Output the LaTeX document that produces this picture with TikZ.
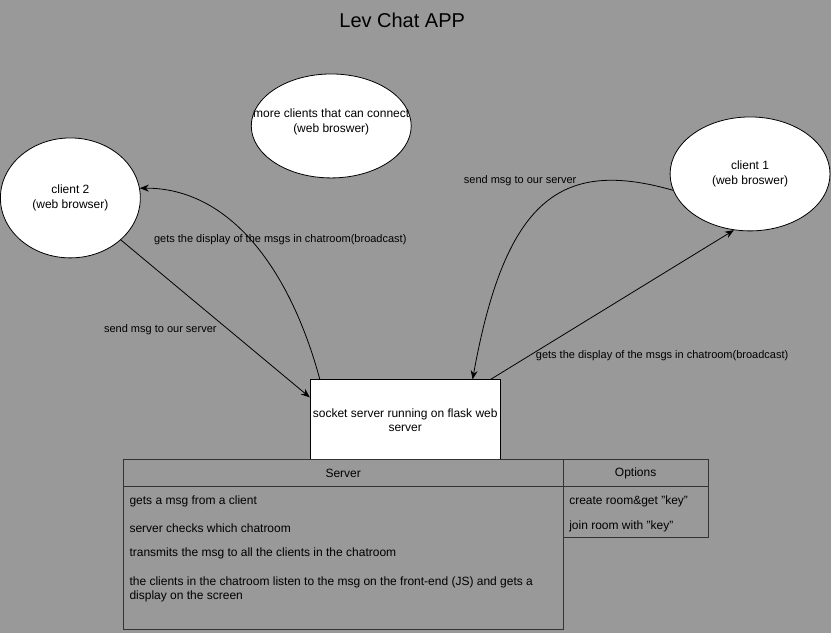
\documentclass[tikz,border=0pt]{standalone}
\usepackage{fontspec}
\setmainfont{Liberation Sans}
\usetikzlibrary{shapes.geometric, arrows.meta, positioning}
\definecolor{canvasgray}{RGB}{153,153,153}
\definecolor{tableline}{RGB}{51,51,51}
\tikzset{
    client_ellipse/.style={
        ellipse, draw=black, line width=0.8pt, fill=white,
        inner sep=0pt, align=center, font=\fontsize{12}{15}\selectfont
    },
    socket_box/.style={
        rectangle, draw=black, line width=0.8pt, fill=white,
        minimum width=190pt, minimum height=80pt, inner sep=0pt,
        align=center, font=\fontsize{12}{14}\selectfont
    },
    table_cell/.style={
        rectangle, draw=tableline, line width=1pt, inner sep=0pt,
        align=center, font=\fontsize{12}{14}\selectfont
    },
    row_text/.style={
        anchor=west, inner sep=0pt, align=left, font=\fontsize{12}{14}\selectfont
    },
    pipe_arrow/.style={
        -{Stealth[length=9pt, width=7pt]}, line width=0.8pt, draw=black
    },
    lbl/.style={
        font=\fontsize{11}{13}\selectfont, inner sep=0pt
    }
}

\begin{document}
\begin{tikzpicture}[x=1pt, y=-1pt]
    \fill[canvasgray] (0,0) rectangle (831,633);

    % Title
    \node[font=\fontsize{20}{24}\selectfont] (title) at (402,20) {Lev Chat APP};

    % Clients
    \node[client_ellipse, minimum width=140pt, minimum height=120pt] (client2) at (70,198) {client 2\\(web browser)};
    \node[client_ellipse, minimum width=160pt, minimum height=104pt,
          label={[align=center, font=\fontsize{12}{15}\selectfont, yshift=4pt]center:more clients that can connect\\(web broswer)}] (more) at (331,126) {};
    \node[client_ellipse, minimum width=160pt, minimum height=114pt] (client1) at (750,174) {client 1\\(web broswer)};

    % Server
    \node[socket_box] (socket) at (405,420) {socket server running on flask web\\server};

    % Tables
    \node[table_cell, minimum width=440pt, minimum height=143pt] (server_body) at (343,558.5) {};
    \node[table_cell, minimum width=440pt, minimum height=27pt] (server_head) at (343,473.5) {Server};
    \node[table_cell, minimum width=145pt, minimum height=51pt] (options_body) at (635.5,512.5) {};
    \node[table_cell, minimum width=145pt, minimum height=27pt] (options_head) at (635.5,473.5) {Options};

    \node[row_text] (row1) at (129,502) {gets a msg from a client};
    \node[row_text] (row2) at (129,528) {server checks which chatroom};
    \node[row_text] (row3) at (129,554) {transmits the msg to all the clients in the chatroom};
    \node[row_text] (row4) at (129,590) {the clients in the chatroom listen to the msg on the front-end (JS) and gets a\\display on the screen};
    \node[row_text] (opt1) at (569,502) {create room\&get "key"};
    \node[row_text] (opt2) at (569,527) {join room with "key"};

    % Labels
    \node[lbl] (send_left) at (160,330) {send msg to our server};
    \node[lbl] (bcast_left) at (280,240) {gets the display of the msgs in chatroom(broadcast)};
    \node[lbl] (send_right) at (520,181) {send msg to our server};
    \node[lbl] (bcast_right) at (662,356) {gets the display of the msgs in chatroom(broadcast)};

    % Connectors
    \draw[pipe_arrow] (client2) -- ([yshift=-18pt]socket.north west);
    \draw[pipe_arrow] ([xshift=10pt]socket.north west) .. controls (290,270) and (230,188) .. (client2.8);
    \draw[pipe_arrow] (client1.192) .. controls (560,158) and (505,200) .. ([xshift=-28pt]socket.north east);
    \draw[pipe_arrow] ([xshift=-10pt]socket.north east) -- (client1.254);
\end{tikzpicture}
\end{document}
